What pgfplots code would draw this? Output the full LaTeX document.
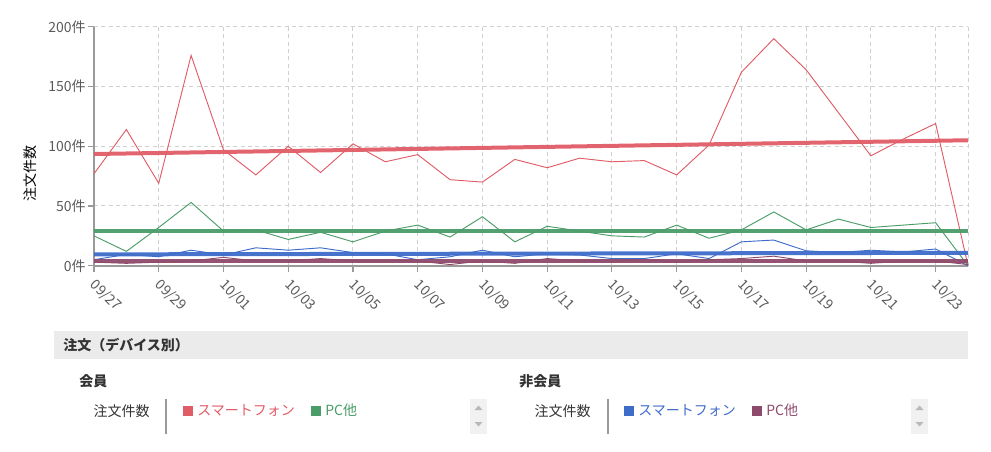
\documentclass[border=0pt]{standalone}
\usepackage{fontspec}
\setmainfont{Noto Sans CJK JP}
\usepackage{pgfplots}
\usepackage{pgfplotstable}
\pgfplotsset{compat=1.18}

\definecolor{cred}{HTML}{E05C66}
\definecolor{cgreen}{HTML}{4A9C68}
\definecolor{cblue}{HTML}{3E6CC9}
\definecolor{cpurple}{HTML}{8E4A6A}
\definecolor{ctick}{HTML}{5A5A5A}
\definecolor{cgrid}{HTML}{D0D0D0}
\definecolor{caxis}{HTML}{9A9A9A}
\definecolor{cbar}{HTML}{EBEBEB}
\definecolor{ctext}{HTML}{333333}

% daily orders, 09/27 = day 0
\pgfplotstableread{
d   red  green blue  purple
0   77   25    5     3
1   114  12    9.5   2
2   69   32    7.5   3
3   176  53    13    4
4   97   29    9     7
5   76   30    15    4
6   100  22    13    4
7   78   28    15    6
8   102  20    11    4
9   87   29    10    4
10  93   34    5     4
11  72   24    7.5   1
12  70   41    13    4
13  89   20    7.5   2
14  82   33    10    6
15  90   29    9     4
16  87   25    6     4
17  88   24    6     5
18  76   34    10    3
19  101  23    6     5
20  162  30    20    6
21  190  45    21.5  8
22  164  30    12.5  4
23  128  39    11    4
24  92   32    13    2
25  106  34    11.5  4
26  119  36    14    4
27  0    0     0     1
}\orders

\begin{document}
\begin{tikzpicture}[x=0.75pt,y=-0.75pt,font=\fontsize{10.5}{12}\selectfont]
\useasboundingbox (0,0) rectangle (991,452);
\begin{axis}[
  at={(70.5pt,-199.3pt)}, anchor=south west,
  scale only axis, width=655.5pt, height=179.25pt,
  xmin=0, xmax=27, ymin=0, ymax=200,
  axis x line*=bottom, axis y line*=left,
  axis line style={caxis, line width=1.2pt},
  xtick={0,2,...,26},
  xticklabels={09/27,09/29,10/01,10/03,10/05,10/07,10/09,10/11,10/13,10/15,10/17,10/19,10/21,10/23},
  ytick={0,50,...,200},
  yticklabel={\pgfmathprintnumber{\tick}件},
  extra x ticks={27}, extra x tick labels={},
  extra x tick style={major tick length=0pt},
  tick align=outside, major tick length=4.5pt,
  tick style={caxis, line width=0.8pt},
  grid=major,
  major grid style={cgrid, line width=0.75pt, dash pattern=on 3pt off 2.5pt},
  xticklabel style={rotate=-45, anchor=north west, inner sep=1pt, xshift=4pt, text=ctick, font=\fontsize{10.5}{12}\selectfont},
  yticklabel style={text=ctick, inner sep=1.5pt, font=\fontsize{10.5}{12}\selectfont},
  /pgf/number format/assume math mode=true,
  clip=false,
]
\addplot[cred, line width=0.7pt] table[x=d, y=red] {\orders};
\addplot[cgreen, line width=0.7pt] table[x=d, y=green] {\orders};
\addplot[cblue, line width=0.7pt] table[x=d, y=blue] {\orders};
\addplot[cpurple, line width=0.7pt] table[x=d, y=purple] {\orders};
% trend lines
\addplot[cred, line width=3pt, opacity=0.95] coordinates {(0,93.5) (27,105)};
\addplot[cgreen, line width=3pt, opacity=0.95] coordinates {(0,29) (27,29)};
\addplot[cblue, line width=3pt, opacity=0.95] coordinates {(0,9.5) (27,10.8)};
\addplot[cpurple, line width=3pt, opacity=0.95] coordinates {(0,4) (27,4)};
\end{axis}

\node[rotate=90, text=black] at (30,174) {注文件数};

% panel below
\fill[cbar] (54,331) rectangle (968,359);
\node[anchor=west, inner sep=0, text=ctext] at (63,345) {\bfseries 注文（デバイス別）};
\node[anchor=west, inner sep=0, text=ctext] at (79,381) {\bfseries 会員};
\node[anchor=west, inner sep=0, text=ctext] at (519,381) {\bfseries 非会員};

\node[anchor=east, inner sep=0, text=ctext] at (150,411) {注文件数};
\node[anchor=east, inner sep=0, text=ctext] at (591,411) {注文件数};
\draw[caxis, line width=0.8pt] (166,399) -- (166,434);
\draw[caxis, line width=0.8pt] (608,399) -- (608,434);

\fill[cred] (183,405.5) rectangle (193,415.5);
\node[anchor=west, inner sep=0, text=cred] at (197,410.5) {スマートフォン};
\fill[cgreen] (311,405.5) rectangle (321,415.5);
\node[anchor=west, inner sep=0, text=cgreen] at (325,410.5) {PC他};

\fill[cblue] (624,405.5) rectangle (634,415.5);
\node[anchor=west, inner sep=0, text=cblue] at (638,410.5) {スマートフォン};
\fill[cpurple] (752,405.5) rectangle (762,415.5);
\node[anchor=west, inner sep=0, text=cpurple] at (766,410.5) {PC他};

\foreach \bx in {470,911} {
  \fill[cbar!70] (\bx,399) rectangle ++(17,35);
  \fill[gray!55] (\bx+4.5,410) -- (\bx+12.5,410) -- (\bx+8.5,405.5) -- cycle;
  \fill[gray!55] (\bx+4.5,422) -- (\bx+12.5,422) -- (\bx+8.5,426.5) -- cycle;
}
\end{tikzpicture}
\end{document}
